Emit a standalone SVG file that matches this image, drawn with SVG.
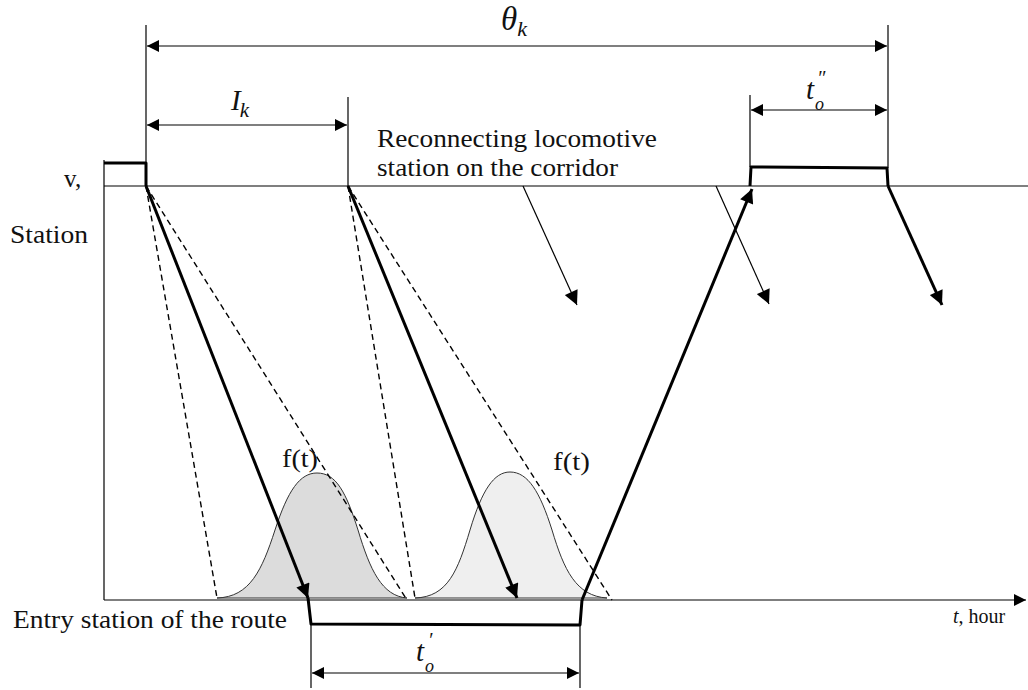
<svg xmlns="http://www.w3.org/2000/svg" width="1028" height="690" viewBox="0 0 1028 690">
<style>
.thin{stroke:#000;stroke-width:1.2;fill:none}
.thick{stroke:#000;stroke-width:3;fill:none;stroke-linejoin:round}
.dash{stroke:#000;stroke-width:1.4;fill:none;stroke-dasharray:6,4}
.t{font-family:"Liberation Serif","Times New Roman",serif;fill:#111}
.i{font-family:"Liberation Serif","Times New Roman",serif;font-style:italic;fill:#111}
</style>
<defs>
<marker id="ah" viewBox="0 0 10 10" refX="10" refY="5" markerWidth="16" markerHeight="12" markerUnits="userSpaceOnUse" orient="auto-start-reverse"><path d="M0,0L10,5L0,10z" fill="#000"/></marker>
<marker id="ahb" viewBox="0 0 10 10" refX="10" refY="5" markerWidth="17" markerHeight="14" markerUnits="userSpaceOnUse" orient="auto"><path d="M0,0L10,5L0,10z" fill="#000"/></marker>
</defs>
<rect width="1028" height="690" fill="#fff"/>
<g id="curves">
<path d="M217,598 C250,597 262,570 275,530 C288,490 300,473 317,473 C336,473 346,492 358,530 C370,570 382,596 407,598 Z" fill="#dcdcdc" stroke="#333" stroke-width="1"/>
<path d="M415,598 C448,597 458,570 470,530 C482,490 494,472 510,472 C528,472 540,492 552,530 C564,570 576,596 607,598 Z" fill="#efefef" stroke="#333" stroke-width="1"/>
</g>
<g id="axes">
<line class="thin" x1="104" y1="160" x2="104" y2="600"/>
<line class="thin" x1="104" y1="186" x2="1028" y2="186"/>
<line class="thin" x1="104" y1="600" x2="1026" y2="600" stroke-width="1.5" marker-end="url(#ah)"/>
</g>
<g id="connectors">
<line class="dash" x1="146" y1="186" x2="217" y2="598"/>
<line class="dash" x1="146" y1="186" x2="407" y2="600"/>
<line class="dash" x1="348" y1="186" x2="415" y2="598"/>
<line class="dash" x1="348" y1="186" x2="612" y2="600"/>
<path class="thick" d="M104,163 L146,163 L146,186"/>
<line class="thick" x1="146" y1="186" x2="308" y2="598" stroke-width="2.6" marker-end="url(#ahb)"/>
<line class="thick" x1="348" y1="186" x2="517" y2="598" stroke-width="2.6" marker-end="url(#ahb)"/>
<path class="thick" d="M308,598 L311,624 L580,625 L582,600"/>
<line class="thick" x1="582" y1="600" x2="752" y2="189" stroke-width="2.6" marker-end="url(#ahb)"/>
<path class="thick" d="M750,186 L751,167 L887,168 L888,186"/>
<line class="thick" x1="888" y1="186" x2="942" y2="305" stroke-width="2.6" marker-end="url(#ahb)"/>
<line class="thin" x1="523" y1="186" x2="577" y2="305" stroke-width="1.4" marker-end="url(#ahb)"/>
<line class="thin" x1="716" y1="186" x2="769" y2="304" stroke-width="1.4" marker-end="url(#ahb)"/>
<line class="thin" x1="146" y1="25" x2="146" y2="163"/>
<line class="thin" x1="888" y1="25" x2="888" y2="168"/>
<line class="thin" x1="348" y1="97" x2="348" y2="186"/>
<line class="thin" x1="750" y1="95" x2="750" y2="167"/>
<line class="thin" x1="311" y1="624" x2="311" y2="688"/>
<line class="thin" x1="580" y1="625" x2="580" y2="688"/>
<line class="thin" x1="147" y1="46" x2="887" y2="46" marker-start="url(#ah)" marker-end="url(#ah)"/>
<line class="thin" x1="147" y1="125" x2="347" y2="125" marker-start="url(#ah)" marker-end="url(#ah)"/>
<line class="thin" x1="751" y1="110" x2="887" y2="110" marker-start="url(#ah)" marker-end="url(#ah)"/>
<line class="thin" x1="312" y1="673" x2="579" y2="673" marker-start="url(#ah)" marker-end="url(#ah)"/>
</g>
<g id="labels">
<text class="i" x="501" y="30" font-size="33">θ<tspan dy="6" font-size="22">k</tspan></text>
<text class="i" x="231" y="110" font-size="29">I<tspan dx="-1" dy="7" font-size="21">k</tspan></text>
<text class="i" x="806" y="99" font-size="29">t<tspan x="817" y="85" font-size="20">″</tspan><tspan x="815" y="110" font-size="18">o</tspan></text>
<text class="i" x="416" y="661" font-size="29">t<tspan x="428" y="647" font-size="20">′</tspan><tspan x="425" y="672" font-size="18">o</tspan></text>
<text class="t" x="377" y="147" font-size="25" textLength="280" lengthAdjust="spacingAndGlyphs">Reconnecting locomotive</text>
<text class="t" x="377" y="176" font-size="25" textLength="241" lengthAdjust="spacingAndGlyphs">station on the corridor</text>
<text class="t" x="64" y="187" font-size="25">v,</text>
<text class="t" x="10" y="243" font-size="25" textLength="78" lengthAdjust="spacingAndGlyphs">Station</text>
<text class="t" x="282" y="467" font-size="25" textLength="36" lengthAdjust="spacingAndGlyphs">f(t)</text>
<text class="t" x="553" y="470" font-size="25" textLength="37" lengthAdjust="spacingAndGlyphs">f(t)</text>
<text class="t" x="13" y="628" font-size="25" textLength="274" lengthAdjust="spacingAndGlyphs">Entry station of the route</text>
<text class="t" x="953" y="623" font-size="20"><tspan font-style="italic">t</tspan>, hour</text>
</g>
</svg>
